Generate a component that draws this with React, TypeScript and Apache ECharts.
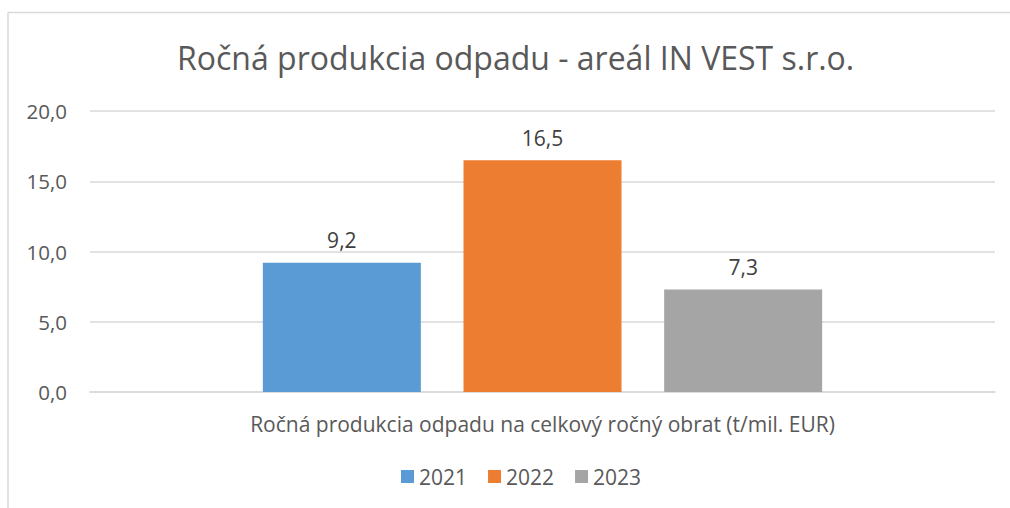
import React, { useEffect, useRef } from "react";
import * as echarts from "echarts";

const titleText = "Ročná produkcia odpadu - areál IN VEST s.r.o.";
const categories = ["Ročná produkcia odpadu na celkový ročný obrat (t/mil. EUR)"];
const seriesNames = ["2021", "2022", "2023"];
const values2021 = [9.2];
const values2022 = [16.5];
const values2023 = [7.3];
const seriesColors = ["#5b9bd5", "#ed7d31", "#a5a5a5"];

const fmt = (v: number) => v.toFixed(1).replace(".", ",");

export default function App() {
  const ref = useRef<HTMLDivElement>(null);
  useEffect(() => {
    if (!ref.current) return;
    const chart = echarts.init(ref.current, undefined, { renderer: "svg" });
    const font = "Open Sans, Liberation Sans, sans-serif";
    const data = [values2021, values2022, values2023];
    chart.setOption({
      animation: false,
      backgroundColor: "#ffffff",
      textStyle: { fontFamily: font },
      title: {
        text: titleText,
        left: 172,
        top: 36,
        textStyle: { color: "#595959", fontSize: 32, fontWeight: "normal", fontFamily: font },
      },
      grid: { left: 90, right: 15, top: 111, bottom: 116 },
      legend: {
        bottom: 16,
        left: 396,
        itemWidth: 13,
        itemHeight: 13,
        itemGap: 21,
        icon: "rect",
        textStyle: { color: "#595959", fontSize: 21, fontFamily: font },
        data: seriesNames,
      },
      xAxis: {
        type: "category",
        data: categories,
        axisLine: { lineStyle: { color: "#d9d9d9", width: 1.5 } },
        axisTick: { show: false },
        axisLabel: { color: "#595959", fontSize: 21, margin: 21, fontFamily: font },
      },
      yAxis: {
        type: "value",
        min: 0,
        max: 20,
        interval: 5,
        axisLine: { show: false },
        axisTick: { show: false },
        splitLine: { lineStyle: { color: "#d9d9d9", width: 1.5 } },
        axisLabel: { color: "#595959", fontSize: 20.5, margin: 23, formatter: (v: number) => fmt(v), fontFamily: font },
      },
      series: seriesNames.map((name, i) => ({
        name,
        type: "bar",
        data: data[i],
        barWidth: 158,
        barGap: "27%",
        itemStyle: { color: seriesColors[i] },
        label: {
          show: true,
          position: "top",
          distance: 12,
          color: "#404040",
          fontSize: 21,
          fontFamily: font,
          formatter: (p: any) => fmt(p.value),
        },
      })),
      graphic: [
        { type: "line", shape: { x1: 8, y1: 12.5, x2: 1010, y2: 12.5 }, style: { stroke: "#d9d9d9", lineWidth: 1.5 } },
        { type: "line", shape: { x1: 8, y1: 12.5, x2: 8, y2: 508 }, style: { stroke: "#d9d9d9", lineWidth: 1.5 } },
      ],
    });
    return () => chart.dispose();
  }, []);
  return <div ref={ref} style={{ position: "fixed", left: 0, top: 0, width: 1010, height: 508 }} />;
}
